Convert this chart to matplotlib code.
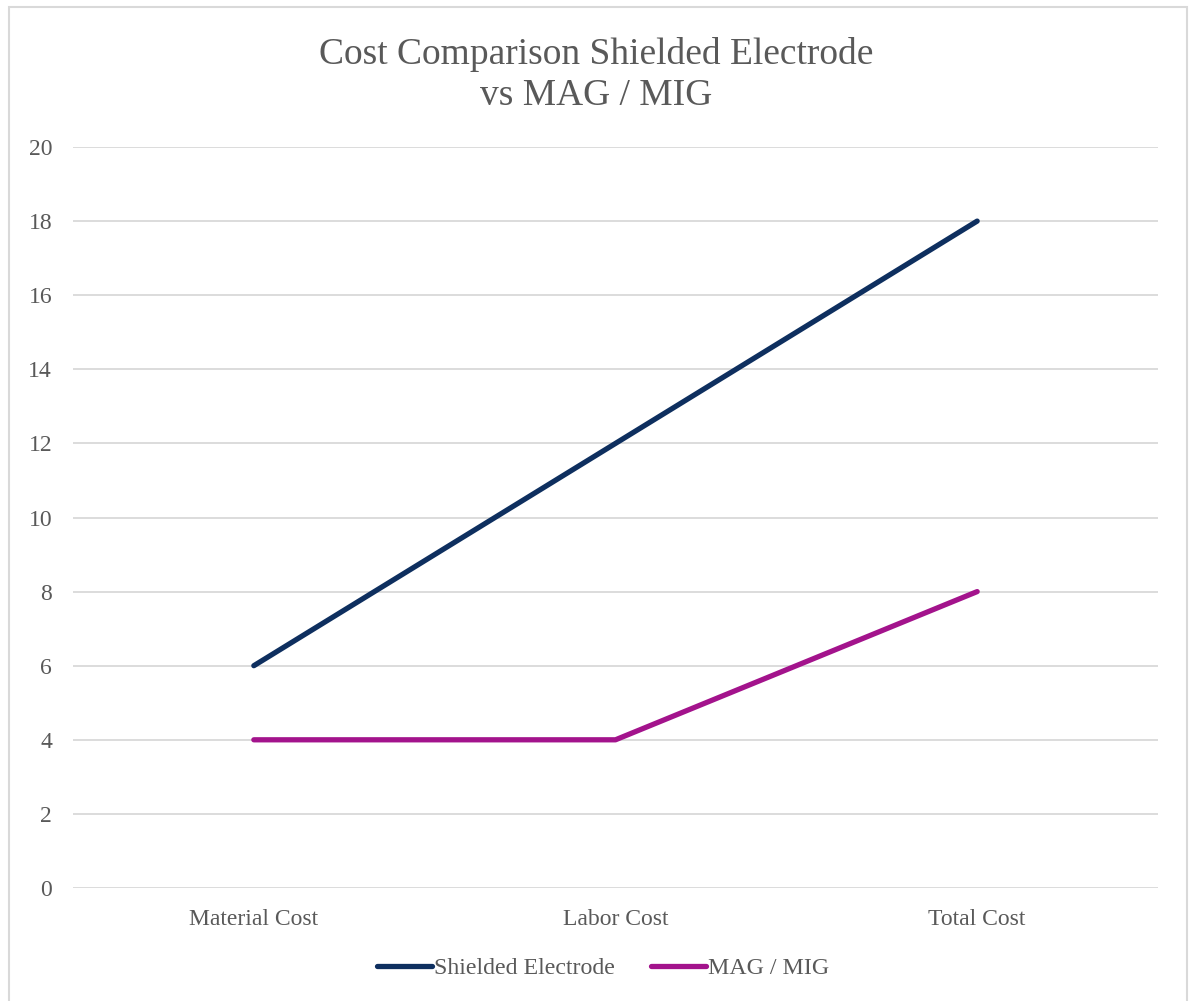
import numpy as np
import matplotlib.pyplot as plt
from matplotlib.patches import Rectangle

plt.rc("font", family="Liberation Serif")

categories = ["Material Cost", "Labor Cost", "Total Cost"]
shielded = [6, 12, 18]
mag_mig = [4, 4, 8]

g_title = "Cost Comparison Shielded Electrode\nvs MAG / MIG"
g_textcolor = "#595959"
g_gridcolor = "#d9d9d9"

fig = plt.figure(figsize=(11.92, 10.01), dpi=100)
ax = fig.add_axes([73 / 1192, 113 / 1001, 1085 / 1192, 741 / 1001])

x = np.arange(len(categories))
ax.plot(x, shielded, color="#0e2f5f", lw=3.8, solid_capstyle="round", label="Shielded Electrode", zorder=3)
ax.plot(x, mag_mig, color="#a3138c", lw=3.8, solid_capstyle="round", label="MAG / MIG", zorder=3)

ax.set_xlim(-0.5, len(categories) - 0.5)
ax.set_ylim(0, 20)
ax.set_yticks(np.arange(0, 21, 2))
ax.set_xticks(x)
ax.set_xticklabels(categories)
ax.tick_params(length=0, labelsize=17, labelcolor=g_textcolor)
ax.tick_params(axis="y", pad=15)
ax.tick_params(axis="x", pad=15)
ax.grid(axis="y", color=g_gridcolor, lw=1.3, zorder=0)
ax.set_axisbelow(True)
for s in ax.spines.values():
    s.set_visible(False)

fig.text(0.5, 1 - 75 / 1001, g_title, ha="center", va="center", fontsize=27,
         color=g_textcolor, linespacing=1.25)

leg = fig.legend(loc="center", bbox_to_anchor=(603 / 1192, 1 - 968 / 1001), ncol=2, frameon=False,
                 fontsize=17.2, handlelength=2.3, handletextpad=0.1, columnspacing=1.5)
for t in leg.get_texts():
    t.set_color(g_textcolor)

fig.patches.append(Rectangle((9 / 1192, -0.01), 1178 / 1192, 1 - 7 / 1001 + 0.01,
                             transform=fig.transFigure, fill=False, edgecolor=g_gridcolor, lw=1.5))

plt.savefig("out.png", dpi=100)
